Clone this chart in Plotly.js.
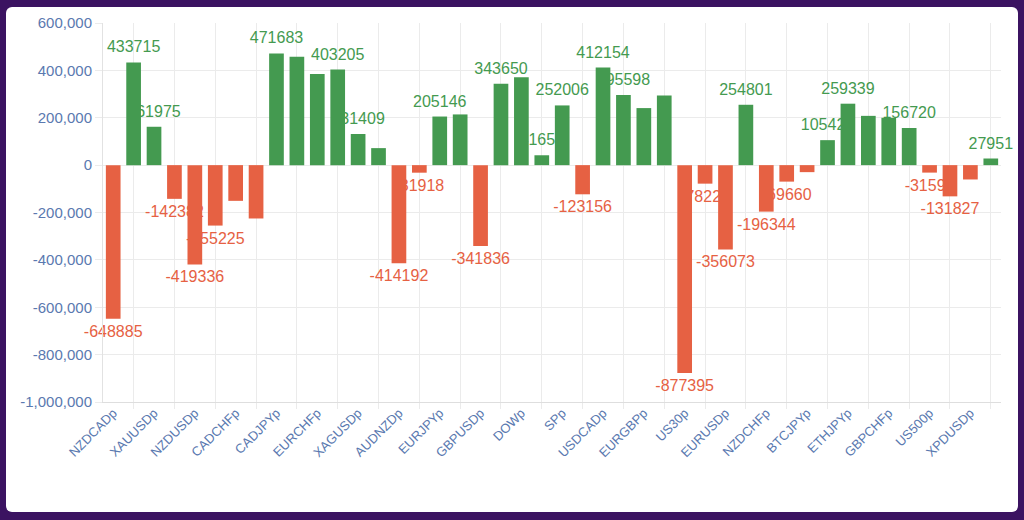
<!DOCTYPE html>
<html>
<head>
<meta charset="utf-8">
<script src="https://cdn.plot.ly/plotly-3.0.1.min.js"></script>
<style>
  html, body {
    margin: 0;
    padding: 0;
    width: 1024px;
    height: 520px;
    background: #3b1361;
    overflow: hidden;
  }
  #card {
    position: absolute;
    left: 6px;
    top: 7px;
    width: 1012px;
    height: 505px;
    background: #ffffff;
    border-radius: 6px;
  }
  #chart {
    position: absolute;
    left: 0;
    top: 0;
    width: 1024px;
    height: 520px;
  }
</style>
</head>
<body>
<div id="card"></div>
<div id="chart"></div>
<script>
// symbols, in the order they are drawn (only every other one gets a tick label)
const symbols = [
  'NZDCADp', 'AUDCADp', 'XAUUSDp', 'EURNZDp', 'NZDUSDp', 'GBPCADp',
  'CADCHFp', 'AUDUSDp', 'CADJPYp', 'AUDJPYp', 'EURCHFp', 'CHFJPYp',
  'XAGUSDp', 'GBPAUDp', 'AUDNZDp', 'EURCADp', 'EURJPYp', 'GBPJPYp',
  'GBPUSDp', 'NZDJPYp', 'DOWp', 'USDJPYp', 'SPp', 'AUDCHFp',
  'USDCADp', 'EURAUDp', 'EURGBPp', 'USDCHFp', 'US30p', 'GBPNZDp',
  'EURUSDp', 'NAS100p', 'NZDCHFp', 'XPTUSDp', 'BTCJPYp', 'BTCUSDp',
  'ETHJPYp', 'ETHUSDp', 'GBPCHFp', 'JP225p', 'US500p', 'UK100p',
  'XPDUSDp', 'GER40p',
];

// profit per symbol
const profit = [
  -648885, 433715, 161975, -142382, -419336, -255225,
  -150800, -225300, 471683, 457600, 384500, 403205,
  131409, 71800, -414192, -31918, 205146, 214000,
  -341836, 343650, 370500, 41651, 252006, -123156,
  412154, 295598, 240800, 294400, -877395, -78222,
  -356073, 254801, -196344, -69660, -29600, 105420,
  259339, 208000, 199800, 156720, -31591, -131827,
  -60600, 27951,
];

// which value labels the reference actually shows (the rest are auto-hidden)
const labelShown = [
  1, 1, 1, 1, 1, 1,
  0, 0, 1, 0, 0, 1,
  1, 0, 1, 1, 1, 0,
  1, 1, 0, 1, 1, 1,
  1, 1, 0, 0, 1, 1,
  1, 1, 1, 1, 0, 1,
  1, 0, 0, 1, 1, 1,
  0, 1,
];

const yTicks = [-1000000, -800000, -600000, -400000, -200000, 0, 200000, 400000, 600000];

const GREEN = '#449a50';
const RED = '#e66143';
const TICK_INK = '#5a79b0';
const GRID = '#ebebeb';
const FONT = 'Liberation Sans, Arial, Helvetica, sans-serif';

const barColors = profit.map((v) => (v >= 0 ? GREEN : RED));
const evenSymbols = symbols.filter((s, i) => i % 2 === 0);
const oddSymbols = symbols.filter((s, i) => i % 2 === 1);

const traces = [
  {
    // value labels sit on the main subplot so the bars cover them
    type: 'scatter',
    mode: 'markers+text',
    x: symbols,
    y: profit,
    xaxis: 'x',
    yaxis: 'y',
    text: profit.map((v, i) => (labelShown[i] ? String(v) : '')),
    textposition: profit.map((v) => (v >= 0 ? 'top center' : 'bottom center')),
    textfont: { family: FONT, size: 16, color: barColors },
    marker: { size: 8, opacity: 0 },
    cliponaxis: false,
    hoverinfo: 'skip',
  },
  {
    type: 'bar',
    x: symbols,
    y: profit,
    xaxis: 'x2',
    yaxis: 'y',
    marker: { color: barColors, line: { width: 0 } },
    hoverinfo: 'x+y',
  },
];

const categoryAxis = {
  type: 'category',
  categoryorder: 'array',
  categoryarray: symbols,
  range: [-0.5, symbols.length - 0.5],
  fixedrange: true,
};

const layout = {
  width: 1024,
  height: 520,
  margin: { l: 103, r: 23, t: 23, b: 118 },
  paper_bgcolor: 'rgba(0,0,0,0)',
  plot_bgcolor: 'rgba(0,0,0,0)',
  showlegend: false,
  bargap: 0.28,
  font: { family: FONT, color: TICK_INK },
  // main x: grid lines and tick marks between the labelled bars
  xaxis: {
    ...categoryAxis,
    tickmode: 'array',
    tickvals: oddSymbols,
    showticklabels: false,
    showgrid: true,
    gridcolor: GRID,
    gridwidth: 1,
    ticks: 'outside',
    ticklen: 6,
    tickcolor: GRID,
    showline: true,
    linecolor: '#dedede',
    linewidth: 1,
    zeroline: false,
  },
  // overlay x: the bars and the rotated symbol labels
  xaxis2: {
    ...categoryAxis,
    overlaying: 'x',
    anchor: 'y',
    side: 'bottom',
    tickmode: 'array',
    tickvals: evenSymbols,
    ticktext: evenSymbols,
    tickangle: -45,
    tickfont: { family: FONT, size: 13, color: TICK_INK },
    showgrid: false,
    ticks: '',
    showline: false,
    zeroline: false,
  },
  yaxis: {
    range: [-1000000, 600000],
    tickmode: 'array',
    tickvals: yTicks,
    ticktext: yTicks.map((v) => v.toLocaleString('en-US')),
    tickfont: { family: FONT, size: 15, color: TICK_INK },
    showgrid: true,
    gridcolor: GRID,
    ticks: 'outside',
    ticklen: 7,
    tickcolor: GRID,
    showline: true,
    linecolor: '#e2e2e2',
    zeroline: false,
    fixedrange: true,
  },
};

Plotly.newPlot('chart', traces, layout, { displayModeBar: false, staticPlot: true });
</script>
</body>
</html>
